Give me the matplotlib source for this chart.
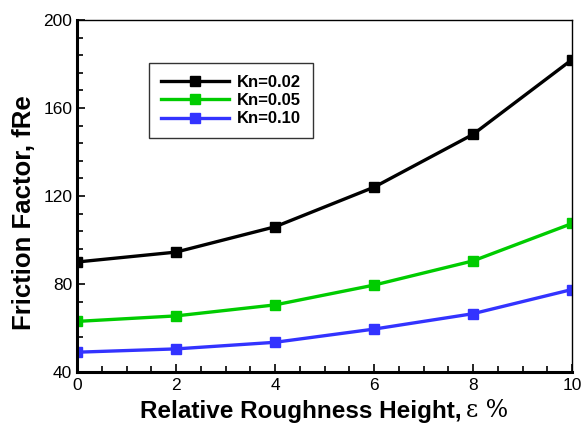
import matplotlib.pyplot as plt
from matplotlib.ticker import MultipleLocator

# relative roughness height (%)
x = [0, 2, 4, 6, 8, 10]
# friction factor fRe
kn002 = [90, 94.5, 106, 124, 148, 182]
kn005 = [63, 65.5, 70.5, 79.5, 90.5, 107.5]
kn010 = [49, 50.5, 53.5, 59.5, 66.5, 77.5]
labels = ["Kn=0.02", "Kn=0.05", "Kn=0.10"]

plt.rcParams['font.family'] = ['Liberation Sans', 'DejaVu Sans']

fig = plt.figure(figsize=(5.86, 4.23), dpi=100)
ax = fig.add_axes([77/586, 1-372/423, (572-77)/586, (372-20)/423])

ax.plot(x, kn002, "s", linestyle='-', linewidth=2.4, markersize=7, color='black', label=labels[0])
ax.plot(x, kn005, "s", linestyle='-', linewidth=2.4, markersize=7, color='#00cc00', label=labels[1])
ax.plot(x, kn010, "s", linestyle='-', linewidth=2.4, markersize=7, color='#3333ff', label=labels[2])

ax.set_xlim(0, 10)
ax.set_ylim(40, 200)
ax.xaxis.set_major_locator(MultipleLocator(2))
ax.xaxis.set_minor_locator(MultipleLocator(0.5))
ax.yaxis.set_major_locator(MultipleLocator(40))
ax.yaxis.set_minor_locator(MultipleLocator(8))
ax.tick_params(which='both', direction='in', labelsize=12.5, width=1.2)
ax.tick_params(which='major', length=6)
ax.tick_params(which='minor', length=4)
ax.tick_params(axis='x', pad=4)

ax.spines['left'].set_linewidth(2.2)
ax.spines['bottom'].set_linewidth(2.2)
ax.spines['top'].set_linewidth(1)
ax.spines['right'].set_linewidth(1)
for lbl in ax.get_xticklabels() + ax.get_yticklabels():
    lbl.set_clip_on(False)

# y label
fig.text(24/586, 1-213/423, "Friction Factor, fRe", fontsize=18.5, fontweight='bold',
         rotation=90, ha='center', va='center')

# x label: bold text followed by serif epsilon
fig.text(140/586, 1-411/423, "Relative Roughness Height,", fontsize=17.5, fontweight='bold',
         ha='left', va='center')
fig.text(466/586, 1-410/423, "\u03b5 %", fontsize=17, family=['DejaVu Serif'],
         ha='left', va='center')

leg = ax.legend(loc='upper left', bbox_to_anchor=((149-77)/495, 1-(63-20)/352),
                prop={'weight': 'bold', 'size': 12},
                frameon=True, fancybox=False, edgecolor='black', handlelength=4.1,
                handletextpad=0.5, borderpad=0.7, labelspacing=0.2, borderaxespad=0)
leg.get_frame().set_linewidth(1)

fig.savefig("out.png", dpi=100)
